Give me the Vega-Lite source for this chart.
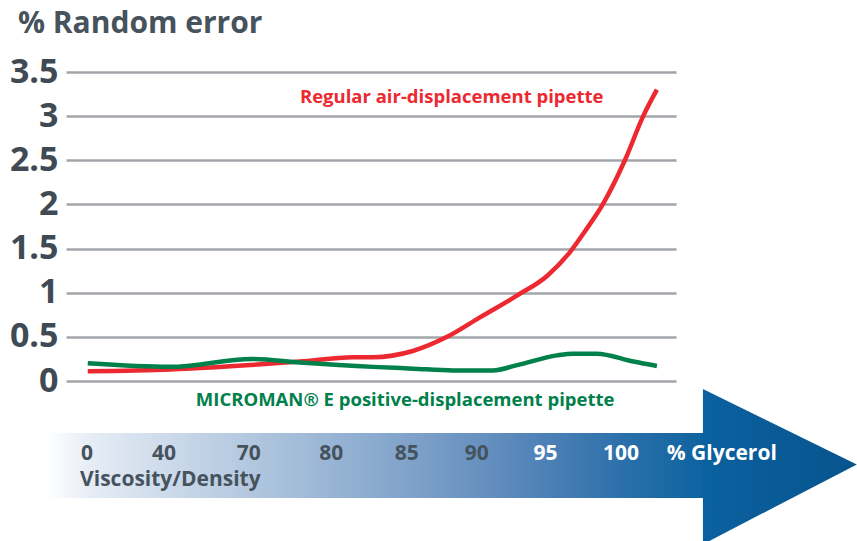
{
  "$schema": "https://vega.github.io/schema/vega-lite/v6.json",
  "width": 610,
  "height": 309,
  "autosize": {"type": "none"},
  "padding": {"left": 66, "top": 72, "right": 181, "bottom": 160},
  "background": "white",
  "title": {
    "text": "% Random error",
    "anchor": "start",
    "frame": "group",
    "dx": -48,
    "offset": 16,
    "font": "Open Sans",
    "fontSize": 30,
    "fontWeight": "bold",
    "color": "#46525c"
  },
  "config": {"view": {"stroke": null}},
  "resolve": {"scale": {"color": "independent"}},
  "datasets": {
    "lines": [
      {"series": "Regular air-displacement pipette", "pos": 0.01, "value": 0.11},
      {"series": "Regular air-displacement pipette", "pos": 1.09, "value": 0.13},
      {"series": "Regular air-displacement pipette", "pos": 2.14, "value": 0.18},
      {"series": "Regular air-displacement pipette", "pos": 2.79, "value": 0.22},
      {"series": "Regular air-displacement pipette", "pos": 3.49, "value": 0.27},
      {"series": "Regular air-displacement pipette", "pos": 3.75, "value": 0.27},
      {"series": "Regular air-displacement pipette", "pos": 4.27, "value": 0.34},
      {"series": "Regular air-displacement pipette", "pos": 4.72, "value": 0.5},
      {"series": "Regular air-displacement pipette", "pos": 5.15, "value": 0.72},
      {"series": "Regular air-displacement pipette", "pos": 5.64, "value": 0.97},
      {"series": "Regular air-displacement pipette", "pos": 6.03, "value": 1.19},
      {"series": "Regular air-displacement pipette", "pos": 6.33, "value": 1.46},
      {"series": "Regular air-displacement pipette", "pos": 6.53, "value": 1.7},
      {"series": "Regular air-displacement pipette", "pos": 6.76, "value": 2.0},
      {"series": "Regular air-displacement pipette", "pos": 7.05, "value": 2.5},
      {"series": "Regular air-displacement pipette", "pos": 7.29, "value": 3.0},
      {"series": "Regular air-displacement pipette", "pos": 7.47, "value": 3.3},
      {"series": "MICROMAN® E positive-displacement pipette", "pos": 0.01, "value": 0.2},
      {"series": "MICROMAN® E positive-displacement pipette", "pos": 1.09, "value": 0.16},
      {"series": "MICROMAN® E positive-displacement pipette", "pos": 2.16, "value": 0.25},
      {"series": "MICROMAN® E positive-displacement pipette", "pos": 2.79, "value": 0.21},
      {"series": "MICROMAN® E positive-displacement pipette", "pos": 3.75, "value": 0.16},
      {"series": "MICROMAN® E positive-displacement pipette", "pos": 4.27, "value": 0.14},
      {"series": "MICROMAN® E positive-displacement pipette", "pos": 4.8, "value": 0.12},
      {"series": "MICROMAN® E positive-displacement pipette", "pos": 5.32, "value": 0.12},
      {"series": "MICROMAN® E positive-displacement pipette", "pos": 5.64, "value": 0.18},
      {"series": "MICROMAN® E positive-displacement pipette", "pos": 6.16, "value": 0.29},
      {"series": "MICROMAN® E positive-displacement pipette", "pos": 6.37, "value": 0.31},
      {"series": "MICROMAN® E positive-displacement pipette", "pos": 6.68, "value": 0.31},
      {"series": "MICROMAN® E positive-displacement pipette", "pos": 7.16, "value": 0.22},
      {"series": "MICROMAN® E positive-displacement pipette", "pos": 7.47, "value": 0.17}
    ],
    "labels": [
      {"series": "Regular air-displacement pipette", "pos": 4.78, "value": 3.22},
      {"series": "MICROMAN® E positive-displacement pipette", "pos": 4.17, "value": -0.215}
    ],
    "band": [
      {"pos": -0.524, "pos2": 8.08, "value": -0.589, "value2": -1.325}
    ],
    "head": [
      {"pos": 8.073, "value": -0.091, "value2": -1.85},
      {"pos": 10.09, "value": -0.945, "value2": -0.945}
    ],
    "glycerol": [
      {"label": "0", "pos": 0.0, "value": -0.83, "tone": "dark"},
      {"label": "40", "pos": 1.01, "value": -0.83, "tone": "dark"},
      {"label": "70", "pos": 2.12, "value": -0.83, "tone": "dark"},
      {"label": "80", "pos": 3.2, "value": -0.83, "tone": "dark"},
      {"label": "85", "pos": 4.19, "value": -0.83, "tone": "dark"},
      {"label": "90", "pos": 5.11, "value": -0.83, "tone": "dark"},
      {"label": "95", "pos": 6.01, "value": -0.83, "tone": "light"},
      {"label": "100", "pos": 7.0, "value": -0.83, "tone": "light"},
      {"label": "% Glycerol", "pos": 8.32, "value": -0.83, "tone": "light"}
    ],
    "captions": [
      {"label": "Viscosity/Density", "pos": -0.09, "value": -1.12, "tone": "dark"}
    ]
  },
  "encoding": {
    "x": {"field": "pos", "type": "quantitative", "scale": {"domain": [-0.275, 7.72], "nice": false, "zero": false}, "axis": null},
    "y": {
      "field": "value",
      "type": "quantitative",
      "scale": {"domain": [0, 3.5], "nice": false, "zero": false},
      "axis": {
        "title": null,
        "values": [0, 0.5, 1, 1.5, 2, 2.5, 3, 3.5],
        "format": "~g",
        "grid": true,
        "gridColor": "#a2a6aa",
        "gridWidth": 2.5,
        "gridOpacity": 1,
        "domain": false,
        "ticks": false,
        "labelPadding": 8,
        "labelFont": "Open Sans",
        "labelFontSize": 34,
        "labelFontWeight": "bold",
        "labelColor": "#3f4a54",
        "labelBaseline": "middle"
      }
    }
  },
  "layer": [
    {
      "data": {"name": "band"},
      "mark": {
        "type": "rect",
        "fill": {
          "gradient": "linear",
          "x1": 0, "y1": 0, "x2": 1, "y2": 0,
          "stops": [
            {"offset": 0, "color": "#ffffff"},
            {"offset": 0.065, "color": "#e6edf5"},
            {"offset": 0.19, "color": "#cbd9ea"},
            {"offset": 0.31, "color": "#b2c7df"},
            {"offset": 0.435, "color": "#98b4d4"},
            {"offset": 0.56, "color": "#7ea1c9"},
            {"offset": 0.665, "color": "#6690bf"},
            {"offset": 0.77, "color": "#4a7fb5"},
            {"offset": 0.875, "color": "#2c70aa"},
            {"offset": 1, "color": "#0d63a0"}
          ]
        }
      },
      "encoding": {
        "x2": {"field": "pos2"},
        "y2": {"field": "value2"}
      }
    },
    {
      "data": {"name": "head"},
      "mark": {
        "type": "area",
        "fill": {
          "gradient": "linear",
          "x1": 0, "y1": 0, "x2": 1, "y2": 0,
          "stops": [
            {"offset": 0, "color": "#0b619f"},
            {"offset": 1, "color": "#06548e"}
          ]
        }
      },
      "encoding": {
        "y2": {"field": "value2"}
      }
    },
    {
      "data": {"name": "glycerol"},
      "mark": {"type": "text", "font": "Open Sans", "fontSize": 21, "fontWeight": "bold", "align": "center", "baseline": "middle"},
      "encoding": {
        "text": {"field": "label"},
        "color": {"field": "tone", "type": "nominal", "scale": {"domain": ["dark", "light"], "range": ["#46535d", "#ffffff"]}, "legend": null}
      }
    },
    {
      "data": {"name": "captions"},
      "mark": {"type": "text", "font": "Open Sans", "fontSize": 21, "fontWeight": "bold", "align": "left", "baseline": "middle", "color": "#46535d"},
      "encoding": {
        "text": {"field": "label"}
      }
    },
    {
      "data": {"name": "lines"},
      "mark": {"type": "line", "strokeWidth": 4.5, "interpolate": "monotone"},
      "encoding": {
        "color": {
          "field": "series", "type": "nominal",
          "scale": {"domain": ["Regular air-displacement pipette", "MICROMAN® E positive-displacement pipette"], "range": ["#ec2830", "#00804a"]},
          "legend": null
        }
      }
    },
    {
      "data": {"name": "labels"},
      "mark": {"type": "text", "font": "Open Sans", "fontSize": 18.5, "fontWeight": "bold", "align": "center", "baseline": "middle"},
      "encoding": {
        "text": {"field": "series"},
        "color": {
          "field": "series", "type": "nominal",
          "scale": {"domain": ["Regular air-displacement pipette", "MICROMAN® E positive-displacement pipette"], "range": ["#ec2830", "#00804a"]},
          "legend": null
        }
      }
    }
  ]
}
